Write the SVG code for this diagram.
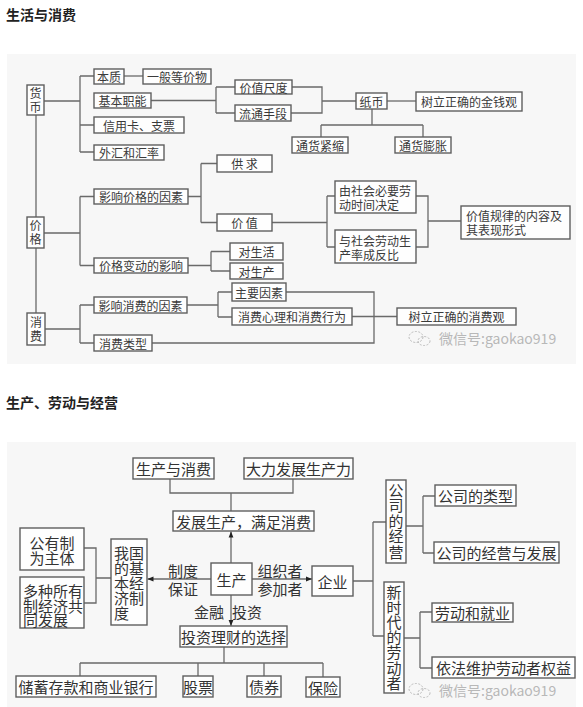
<svg xmlns="http://www.w3.org/2000/svg" width="583" height="707" viewBox="0 0 583 707">
<defs>
<style>
.bg{fill:#f7f7f7}
.b{fill:#fefefe;stroke:#5e5e5e;stroke-width:1.4}
.l{fill:none;stroke:#6a6a6a;stroke-width:1.3}
.t1{font-family:"Noto Sans CJK SC","Liberation Sans",sans-serif;font-size:12px;fill:#3a3a3a;text-anchor:middle;dominant-baseline:central}
.t1s{font-family:"Noto Sans CJK SC","Liberation Sans",sans-serif;font-size:12px;fill:#3a3a3a;dominant-baseline:central}
.t2{font-family:"Noto Sans CJK SC","Liberation Sans",sans-serif;font-size:15px;fill:#333;text-anchor:middle;dominant-baseline:central}
.t2s{font-family:"Noto Sans CJK SC","Liberation Sans",sans-serif;font-size:15px;fill:#333;dominant-baseline:central}
.v1{font-family:"Noto Sans CJK SC",sans-serif;font-size:12px;fill:#3a3a3a;writing-mode:vertical-rl;letter-spacing:2px}
.v2{font-family:"Noto Sans CJK SC",sans-serif;font-size:15px;fill:#333;writing-mode:vertical-rl}
.h{font-family:"Noto Sans CJK SC","Liberation Sans",sans-serif;font-size:14px;font-weight:bold;fill:#222}
.wm{font-family:"Noto Sans CJK SC","Liberation Sans",sans-serif;font-size:14px;fill:#b8b8b8;dominant-baseline:central}
.wi{fill:none;stroke:#bbb;stroke-width:1;stroke-dasharray:2 1.5}
</style>
<marker id="ah" viewBox="0 0 10 10" refX="10" refY="5" markerWidth="6" markerHeight="6" orient="auto" markerUnits="userSpaceOnUse">
<path d="M0,1 L10,5 L0,9 z" fill="#222"/>
</marker>
</defs>

<text class="h" x="6" y="20">生活与消费</text>
<rect class="bg" x="7" y="54" width="569" height="310"/>

<g id="connectors1">
<path class="l" d="M36 115 V217 M36 248 V313"/>
<path class="l" d="M44 101 H80 M80 76 V152 M80 76 H94 M80 125 H94 M80 152 H94"/>
<path class="l" d="M124 76 H143"/>
<path class="l" d="M151 100.5 H216 M216 87 V113 M216 87 H235 M216 113 H235"/>
<path class="l" d="M292 87 H322 V113 H291 M322 101 H356"/>
<path class="l" d="M387 101 H416"/>
<path class="l" d="M372 109 V125 M321 125 H423 M321 125 V137 M423 125 V137"/>
<path class="l" d="M44 233 H80 M80 196.5 V265.5 M80 196.5 H94 M80 265.5 H94"/>
<path class="l" d="M188 196.5 H201 M201 163.5 V222.5 M201 163.5 H217 M201 222.5 H217"/>
<path class="l" d="M272 222.5 H327 M327 196 V247 M327 196 H335 M327 247 H335"/>
<path class="l" d="M416 196 H428 V247 H416 M428 221 H461"/>
<path class="l" d="M188 265.5 H211 M211 251.5 V271 M211 251.5 H230 M211 271 H230"/>
<path class="l" d="M45 329 H80 M80 305 V343 M80 305 H94 M80 343 H94"/>
<path class="l" d="M187 305 H218 M218 292 V317 M218 292 H232 M218 317 H232"/>
<path class="l" d="M286 292 H374 V343 H152"/>
<path class="l" d="M352 316.5 H397"/>
</g>

<g id="n-huobi"><rect class="b" x="27" y="85" width="17" height="30"/><text class="v1" x="35.5" y="87">货币</text></g>
<g id="n-benzhi"><rect class="b" x="94" y="69" width="30" height="15"/><text class="t1" x="109" y="76.5">本质</text></g>
<g id="n-yiban"><rect class="b" x="143" y="69" width="68" height="15"/><text class="t1" x="177" y="76.5">一般等价物</text></g>
<g id="n-jiben"><rect class="b" x="94" y="93" width="57" height="15"/><text class="t1" x="122.5" y="100.5">基本职能</text></g>
<g id="n-jiazhichidu"><rect class="b" x="235" y="80" width="57" height="14"/><text class="t1" x="263.5" y="87">价值尺度</text></g>
<g id="n-liutong"><rect class="b" x="235" y="105" width="56" height="16"/><text class="t1" x="263" y="113">流通手段</text></g>
<g id="n-xinyong"><rect class="b" x="94" y="117" width="90" height="16"/><text class="t1" x="139" y="125">信用卡、支票</text></g>
<g id="n-waihui"><rect class="b" x="94" y="145" width="70" height="15"/><text class="t1" x="129" y="152.5">外汇和汇率</text></g>
<g id="n-zhibi"><rect class="b" x="356" y="93" width="31" height="16"/><text class="t1" x="371.5" y="101">纸币</text></g>
<g id="n-jinqian"><rect class="b" x="416" y="92" width="106" height="19"/><text class="t1" x="469" y="101.5">树立正确的金钱观</text></g>
<g id="n-jinsuo"><rect class="b" x="292" y="137" width="56" height="16"/><text class="t1" x="320" y="145">通货紧缩</text></g>
<g id="n-pengzhang"><rect class="b" x="395" y="137" width="56" height="16"/><text class="t1" x="423" y="145">通货膨胀</text></g>
<g id="n-gongqiu"><rect class="b" x="217" y="155" width="55" height="17"/><text class="t1" x="244.5" y="163.5">供 求</text></g>
<g id="n-yingxiangjiage"><rect class="b" x="94" y="189" width="94" height="15"/><text class="t1" x="141" y="196.5">影响价格的因素</text></g>
<g id="n-jiazhi"><rect class="b" x="217" y="214" width="55" height="17"/><text class="t1" x="244.5" y="222.5">价 值</text></g>
<g id="n-jiage"><rect class="b" x="27" y="217" width="17" height="31"/><text class="v1" x="35.5" y="219.5">价格</text></g>
<g id="n-biandong"><rect class="b" x="94" y="258" width="94" height="15"/><text class="t1" x="141" y="265.5">价格变动的影响</text></g>
<g id="n-shenghuo"><rect class="b" x="230" y="243" width="53" height="17"/><text class="t1" x="256.5" y="251.5">对生活</text></g>
<g id="n-shengchan1"><rect class="b" x="230" y="263" width="53" height="16"/><text class="t1" x="256.5" y="271">对生产</text></g>
<g id="n-shehui1"><rect class="b" x="335" y="181" width="81" height="32"/><text class="t1s" x="339" y="190">由社会必要劳<tspan x="339" dy="13.5">动时间决定</tspan></text></g>
<g id="n-shehui2"><rect class="b" x="335" y="230" width="81" height="33"/><text class="t1s" x="339" y="240">与社会劳动生<tspan x="339" dy="14">产率成反比</tspan></text></g>
<g id="n-guilv"><rect class="b" x="461" y="206" width="109" height="33"/><text class="t1s" x="466" y="215">价值规律的内容及<tspan x="466" dy="14">其表现形式</tspan></text></g>
<g id="n-zhuyao"><rect class="b" x="232" y="283" width="54" height="18"/><text class="t1" x="259" y="292">主要因素</text></g>
<g id="n-yingxiangxiaofei"><rect class="b" x="94" y="297" width="93" height="16"/><text class="t1" x="140.5" y="305">影响消费的因素</text></g>
<g id="n-xinli"><rect class="b" x="232" y="308" width="120" height="17"/><text class="t1" x="292" y="316.5">消费心理和消费行为</text></g>
<g id="n-xiaofei"><rect class="b" x="27" y="313" width="18" height="32"/><text class="v1" x="36" y="316">消费</text></g>
<g id="n-leixing"><rect class="b" x="94" y="335" width="58" height="16"/><text class="t1" x="123" y="343">消费类型</text></g>
<g id="n-xiaofeiguan"><rect class="b" x="397" y="308" width="119" height="17"/><text class="t1" x="456.5" y="316.5">树立正确的消费观</text></g>

<g id="wm1"><ellipse class="wi" cx="416" cy="337" rx="7" ry="5.5"/><ellipse class="wi" cx="424" cy="341" rx="6" ry="4.5"/><text class="wm" x="439" y="338">微信号:gaokao919</text></g>

<text class="h" x="6" y="408">生产、劳动与经营</text>
<rect class="bg" x="7" y="442" width="569" height="265"/>

<g id="connectors2">
<path class="l" d="M170 479 V493 H293 V479 M231 493 V511"/>
<path class="l" d="M231 563 V531.5" marker-end="url(#ah)"/>
<path class="l" d="M231 595 V626" marker-end="url(#ah)"/>
<path class="l" d="M211 579 H147.5" marker-end="url(#ah)"/>
<path class="l" d="M252 579 H312" marker-end="url(#ah)"/>
<path class="l" d="M84 548 H96 V603 H84 M96 578 H111"/>
<path class="l" d="M224 647 V663 M80 663 H323 M80 663 V676 M198 663 V676 M264 663 V676 M323 663 V677"/>
<path class="l" d="M353 581 H373 M373 522 V636 M373 522 H386 M373 636 H384"/>
<path class="l" d="M406 526 H423 M423 496 V553 M423 496 H435 M423 553 H434"/>
<path class="l" d="M404 638 H420 M420 612 V668 M420 612 H432 M420 668 H432"/>
</g>

<g id="lbl"><text class="t2" x="183" y="570">制度<tspan x="183" dy="18">保证</tspan></text><text class="t2" x="280" y="570">组织者<tspan x="280" dy="18">参加者</tspan></text><text class="t2" x="209" y="611">金融</text><text class="t2" x="247" y="611">投资</text></g>

<g id="n-scxf"><rect class="b" x="133" y="458" width="81" height="21"/><text class="t2" x="173.5" y="468.5">生产与消费</text></g>
<g id="n-dlfz"><rect class="b" x="244" y="458" width="109" height="21"/><text class="t2" x="298.5" y="468.5">大力发展生产力</text></g>
<g id="n-fzsc"><rect class="b" x="173" y="511" width="141" height="20"/><text class="t2" x="243.5" y="521">发展生产，满足消费</text></g>
<g id="n-gongyou"><rect class="b" x="20" y="528" width="64" height="42"/><text class="t2" x="52" y="542">公有制<tspan x="52" dy="15">为主体</tspan></text></g>
<g id="n-duozhong"><rect class="b" x="20" y="577" width="64" height="51"/><text class="t2s" x="23" y="590">多种所有<tspan x="23" dy="14.5">制经济共</tspan><tspan x="23" dy="14">同发展</tspan></text></g>
<g id="n-woguo"><rect class="b" x="111" y="539" width="36" height="86"/><text class="t2s" x="114" y="552">我国<tspan x="114" dy="15">的基</tspan><tspan x="114" dy="15">本经</tspan><tspan x="114" dy="15">济制</tspan><tspan x="114" dy="15">度</tspan></text></g>
<g id="n-shengchan"><rect class="b" x="211" y="563" width="41" height="32"/><text class="t2" x="231.5" y="579">生产</text></g>
<g id="n-qiye"><rect class="b" x="312" y="566" width="41" height="30"/><text class="t2" x="332.5" y="581">企业</text></g>
<g id="n-touzi"><rect class="b" x="180" y="626" width="107" height="21"/><text class="t2" x="233.5" y="636.5">投资理财的选择</text></g>
<g id="n-chuxu"><rect class="b" x="16" y="676" width="140" height="21"/><text class="t2" x="86" y="686.5">储蓄存款和商业银行</text></g>
<g id="n-gupiao"><rect class="b" x="183" y="676" width="30" height="21"/><text class="t2" x="198" y="686.5">股票</text></g>
<g id="n-zhaiquan"><rect class="b" x="247" y="676" width="34" height="21"/><text class="t2" x="264" y="686.5">债券</text></g>
<g id="n-baoxian"><rect class="b" x="306" y="677" width="34" height="20"/><text class="t2" x="323" y="687">保险</text></g>
<g id="n-gongsijy"><rect class="b" x="386" y="480" width="20" height="83"/><text class="v2" x="396" y="482.5" style="letter-spacing:0.6px">公司的经营</text></g>
<g id="n-xinshidai"><rect class="b" x="384" y="582" width="20" height="111"/><text class="v2" x="394" y="584.5" style="letter-spacing:0.2px">新时代的劳动者</text></g>
<g id="n-leixing2"><rect class="b" x="435" y="485" width="81" height="21"/><text class="t2" x="475.5" y="495.5">公司的类型</text></g>
<g id="n-jyfz"><rect class="b" x="434" y="542" width="125" height="21"/><text class="t2" x="496.5" y="552.5">公司的经营与发展</text></g>
<g id="n-jiuye"><rect class="b" x="432" y="603" width="81" height="19"/><text class="t2" x="472.5" y="612.5">劳动和就业</text></g>
<g id="n-quanyi"><rect class="b" x="432" y="657" width="143" height="21"/><text class="t2" x="503.5" y="667.5">依法维护劳动者权益</text></g>

<g id="wm2"><ellipse class="wi" cx="416" cy="689" rx="7" ry="5.5"/><ellipse class="wi" cx="424" cy="693" rx="6" ry="4.5"/><text class="wm" x="439" y="690">微信号:gaokao919</text></g>
</svg>
